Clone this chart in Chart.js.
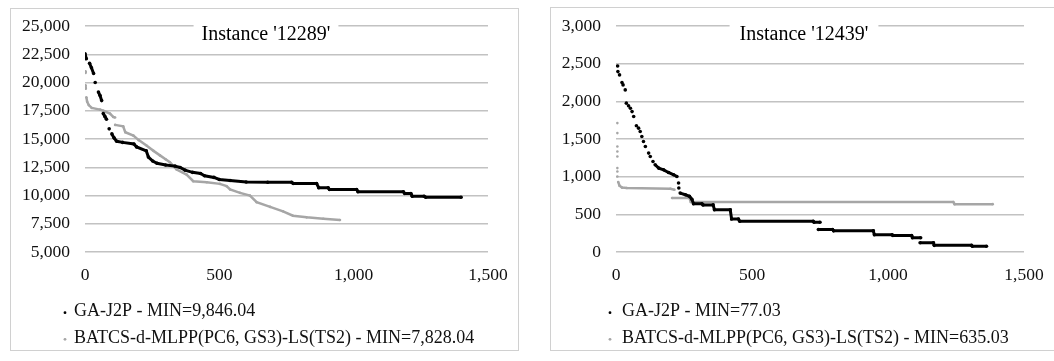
<!DOCTYPE html>
<html><head><meta charset="utf-8">
<script src="https://cdn.jsdelivr.net/npm/chart.js@4.4.1/dist/chart.umd.min.js"></script>
<style>
html,body{margin:0;padding:0;background:#fff;width:1054px;height:361px;overflow:hidden;}
.panel{position:absolute;border:1px solid #d0d0d0;background:#fff;}
#p1{left:10px;top:8px;width:507px;height:341px;}
#p2{left:550px;top:7px;width:503px;height:342px;}
canvas{display:block;}
</style></head><body>
<div class="panel" id="p1"><canvas id="c1" width="507" height="341"></canvas></div>
<div class="panel" id="p2"><canvas id="c2" width="503" height="342"></canvas></div>
<script>
// ---------- data (null = break in the trace) ----------
const titleLeft = "Instance '12289'";
const titleRight = "Instance '12439'";
const labelsLeft = ["GA-J2P - MIN=9,846.04", "BATCS-d-MLPP(PC6, GS3)-LS(TS2) - MIN=7,828.04"];
const labelsRight = ["GA-J2P - MIN=77.03", "BATCS-d-MLPP(PC6, GS3)-LS(TS2) - MIN=635.03"];

const xTickLabels = ['0', '500', '1,000', '1,500'];
const leftYTickLabels = ['5,000', '7,500', '10,000', '12,500', '15,000', '17,500', '20,000', '22,500', '25,000'];
const rightYTickLabels = ['0', '500', '1,000', '1,500', '2,000', '2,500', '3,000'];

const leftGA = [
  [0,22550],[5,22100],null,[17,21700],[24,21300],[32,20800],null,[38,20000],null,
  [50,19150],[56,18850],[62,18400],null,[68,17250],[74,17000],[80,16750],null,[90,15900],null,
  [100,15450],[108,15100],[118,14800],[140,14700],[182,14560],[192,14300],[228,13950],[236,13400],
  [252,13050],[268,12850],[300,12700],[335,12600],[354,12480],[372,12250],[400,12050],[430,11950],
  [445,11750],[480,11600],[500,11420],[540,11330],[600,11200],[680,11170],[769,11170],[775,11060],
  [862,11060],[870,10685],[905,10685],[910,10530],[1011,10530],[1016,10330],[1185,10330],[1190,10180],
  [1213,10180],[1218,9940],[1262,9940],[1268,9846],[1400,9846]
];
const leftBATCS = [
  [2,21000],[2,20850],null,[2,19750],[3,19450],null,
  [5,18700],[8,18300],[14,18000],[25,17750],[56,17600],[68,17500],[93,17250],[105,16950],[112,16900],null,
  [112,16250],[142,16120],[150,15600],[180,15300],[200,14900],[230,14400],[255,13950],[279,13550],
  [300,13200],[316,12940],[341,12300],[378,11855],[403,11266],[453,11178],[502,11030],[527,10825],
  [540,10530],[577,10235],[614,10000],[639,9405],[689,8990],[737,8600],[774,8214],[825,8065],
  [887,7946],[949,7828]
];
const rightGA = [
  [6,2470],null,[7,2395],null,[13,2351],null,[22,2249],null,[26,2218],null,[34,2152],null,
  [38,1976],null,[46,1940],null,[53,1909],null,[59,1864],null,[65,1798],null,[75,1675],null,
  [83,1644],null,[89,1599],null,[95,1533],null,[101,1467],null,[108,1400],null,[120,1313],null,
  [126,1268],null,[136,1201],null,
  [144,1158],[157,1114],[175,1091],[193,1056],[212,1025],[224,1002],null,[230,915],null,[231,849],null,
  [236,782],[255,760],[270,740],[279,700],[285,641],[316,641],[320,625],[357,625],[362,561],[420,561],
  [425,439],[450,439],[455,408],[725,408],[728,395],[750,395],null,
  [744,298],[796,298],[800,281],[946,281],[950,228],[1015,228],[1018,219],[1087,219],[1090,189],[1120,189],null,
  [1118,123],[1167,123],[1170,88],[1307,88],[1310,77],[1362,77]
];
const rightBATCS = [
  [5,1711],null,[5,1578],null,[5,1400],null,[5,1335],null,[5,1268],null,[5,1114],null,[5,1069],null,[5,1002],null,
  [8,930],[13,880],[22,855],[40,850],[200,840],[215,826],null,
  [206,716],[270,716],[275,664],[1240,664],[1245,635],[1385,635]
];

// ---------- helpers ----------
const FONT = '"Liberation Serif", "Times New Roman", serif';
function toPoints(arr){
  return arr.map((p,i)=> p ? {x:p[0], y:p[1]} : {x: arr[i-1][0], y: null});
}

const overlayTitle = {
  id:'overlayTitle',
  beforeDatasetsDraw(chart, args, opts){
    const ctx = chart.ctx;
    ctx.save();
    ctx.font = '20px ' + FONT;
    const w = ctx.measureText(opts.text).width;
    ctx.fillStyle = '#fff';
    ctx.fillRect(opts.x - w/2 - opts.pad, opts.y - 11, w + 2*opts.pad, 22);
    ctx.fillStyle = '#000';
    ctx.textAlign = 'center'; ctx.textBaseline = 'middle';
    ctx.fillText(opts.text, opts.x, opts.y);
    ctx.restore();
  }
};
const rowLegend = {
  id:'rowLegend',
  afterDraw(chart, args, opts){
    const ctx = chart.ctx;
    ctx.save();
    ctx.font = '18px ' + FONT;
    ctx.textBaseline = 'middle'; ctx.textAlign = 'left';
    chart.data.datasets.forEach((ds,i)=>{
      const y = opts.y0 + i*opts.dy;
      ctx.fillStyle = ds.borderColor;
      ctx.beginPath(); ctx.arc(opts.dotX, y + 1, 1.4, 0, Math.PI*2); ctx.fill();
      ctx.fillStyle = '#111';
      ctx.fillText(ds.label, opts.textX, y);
    });
    ctx.restore();
  }
};

function makeChart(id, cfg){
  const tickFont = {family: FONT, size: 17.5};
  const common = {showLine: true, pointBorderWidth: 0, spanGaps: false, tension: 0, borderDash: [4000, 0]};
  return new Chart(document.getElementById(id), {
    type: 'scatter',
    data: {
      datasets: [
        Object.assign({label: cfg.labels[0], data: toPoints(cfg.ga), borderColor: '#000', backgroundColor: '#000',
         borderWidth: 3, pointRadius: 1.8, pointBackgroundColor: '#000'}, common),
        Object.assign({label: cfg.labels[1], data: toPoints(cfg.batcs), borderColor: '#a6a6a6', backgroundColor: '#a6a6a6',
         borderWidth: 2.5, pointRadius: 1.3, pointBackgroundColor: '#a6a6a6'}, common)
      ]
    },
    options: {
      responsive: false, animation: false, devicePixelRatio: 1,
      layout: {padding: {left: 0, right: cfg.padRight, top: cfg.padTop, bottom: cfg.padBottom}},
      plugins: {
        legend: {display: false}, tooltip: {enabled: false}, title: {display: false},
        overlayTitle: {text: cfg.title, x: cfg.titleX, y: cfg.titleY, pad: cfg.titlePad},
        rowLegend: {y0: cfg.legY, dy: 26.6, dotX: cfg.dotX, textX: cfg.textX}
      },
      scales: {
        x: {
          type: 'linear', min: 0, max: 1500,
          ticks: {stepSize: 500, padding: 13, font: tickFont, color: '#111', maxRotation: 0,
                  callback: (v, i) => xTickLabels[i]},
          grid: {display: false, drawTicks: false},
          border: {display: false},
          afterFit: s => { s.height = 40; s.paddingLeft = 0; s.paddingRight = 0; }
        },
        y: {
          type: 'linear', min: cfg.yMin, max: cfg.yMax,
          ticks: {stepSize: cfg.yStep, padding: 15, font: tickFont, color: '#111',
                  callback: (v, i) => cfg.yLabels[i]},
          grid: {color: '#c2c2c2', lineWidth: 1.4, drawTicks: false},
          border: {display: false},
          afterFit: s => { s.width = cfg.yWidth; s.paddingTop = 0; s.paddingBottom = 0; }
        }
      }
    },
    plugins: [overlayTitle, rowLegend]
  });
}

makeChart('c1', {
  labels: labelsLeft, ga: leftGA, batcs: leftBATCS, title: titleLeft,
  titleX: 255, titleY: 26, titlePad: 8,
  yMin: 5000, yMax: 25000, yStep: 2500, yLabels: leftYTickLabels,
  yWidth: 74, padRight: 30, padTop: 17, padBottom: 58,
  legY: 302.7, dotX: 54, textX: 63
});
makeChart('c2', {
  labels: labelsRight, ga: rightGA, batcs: rightBATCS, title: titleRight,
  titleX: 253, titleY: 27, titlePad: 10,
  yMin: 0, yMax: 3000, yStep: 500, yLabels: rightYTickLabels,
  yWidth: 65, padRight: 30, padTop: 18, padBottom: 58,
  legY: 303.7, dotX: 59, textX: 71
});
</script></body></html>
